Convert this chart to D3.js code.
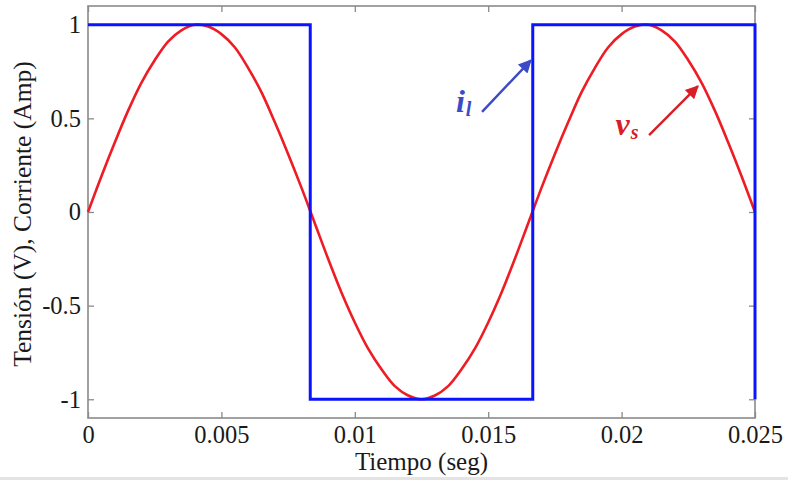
<!DOCTYPE html>
<html>
<head>
<meta charset="utf-8">
<script src="https://cdn.jsdelivr.net/npm/d3@7"></script>
<style>
  html, body { margin: 0; padding: 0; background: #ffffff; }
  svg { display: block; }
  text { font-family: "Liberation Serif", "Times New Roman", serif; }
</style>
</head>
<body>
<svg id="chart" width="788" height="480"></svg>
<script>
// Time samples (s)
const tiempo = [
  0, 0.0005, 0.001, 0.0015, 0.002, 0.0025, 0.003, 0.0035, 0.004, 0.0045,
  0.005, 0.0055, 0.006, 0.0065, 0.007, 0.0075, 0.008, 0.0085, 0.009, 0.0095,
  0.01, 0.0105, 0.011, 0.0115, 0.012, 0.0125, 0.013, 0.0135, 0.014, 0.0145,
  0.015, 0.0155, 0.016, 0.0165, 0.017, 0.0175, 0.018, 0.0185, 0.019, 0.0195,
  0.02, 0.0205, 0.021, 0.0215, 0.022, 0.0225, 0.023, 0.0235, 0.024, 0.0245,
  0.025
];
// Source voltage v_s (normalised)
const tension = [
  0, 0.19, 0.37, 0.54, 0.69, 0.81, 0.91, 0.97, 1.0, 0.99,
  0.95, 0.88, 0.77, 0.64, 0.48, 0.31, 0.13, -0.06, -0.25, -0.43,
  -0.59, -0.73, -0.84, -0.93, -0.98, -1.0, -0.98, -0.93, -0.84, -0.73,
  -0.59, -0.43, -0.25, -0.06, 0.13, 0.31, 0.48, 0.64, 0.77, 0.88,
  0.95, 0.99, 1.0, 0.97, 0.91, 0.81, 0.69, 0.54, 0.37, 0.19,
  0
];
// Load current i_l (square wave corners)
const tiempoCorriente = [0, 0.00833, 0.00833, 0.01667, 0.01667, 0.025, 0.025];
const corriente       = [1, 1, -1, -1, 1, 1, -1];

// Axis ticks
const xTicks = [0, 0.005, 0.01, 0.015, 0.02, 0.025];
const xTickLabels = ["0", "0.005", "0.01", "0.015", "0.02", "0.025"];
const yTicks = [-1, -0.5, 0, 0.5, 1];
const yTickLabels = ["-1", "-0.5", "0", "0.5", "1"];

// Annotations: label anchor and arrow (tail -> head) in data units
const etiquetas = [
  { main: "i", sub: "l", color: "#3b4bc6", t: 0.01379, v: 0.535,
    from: [0.01477, 0.535], to: [0.01660, 0.81] },
  { main: "v", sub: "s", color: "#d81f26", t: 0.01977, v: 0.41,
    from: [0.02103, 0.41], to: [0.02286, 0.672] }
];

const svg = d3.select("#chart");
const plotLeft = 88, plotRight = 755, plotTop = 6, plotBottom = 418;

const x = d3.scaleLinear().domain([0, 0.025]).range([plotLeft, plotRight]);
const y = d3.scaleLinear().domain([-1.1, 1.1]).range([plotBottom, plotTop]);

const axisColor = "#8a8a8a";

// Frame box
svg.append("rect")
  .attr("x", plotLeft).attr("y", plotTop)
  .attr("width", plotRight - plotLeft).attr("height", plotBottom - plotTop)
  .attr("fill", "none").attr("stroke", axisColor).attr("stroke-width", 1.6);

function styleAxis(g) {
  g.select(".domain").remove();
  g.selectAll(".tick line").attr("stroke", axisColor).attr("stroke-width", 1.3);
  g.selectAll(".tick text").attr("fill", "#1a1a1a")
    .style("font-family", "'Liberation Serif', serif").style("font-size", "24.5px");
}

// Bottom axis with inward ticks
svg.append("g").attr("transform", `translate(0,${plotBottom})`)
  .call(d3.axisBottom(x).tickValues(xTicks)
    .tickFormat((d, i) => xTickLabels[i]).tickSize(-6).tickPadding(8))
  .call(styleAxis);
// Top axis ticks only
svg.append("g").attr("transform", `translate(0,${plotTop})`)
  .call(d3.axisTop(x).tickValues(xTicks).tickFormat("").tickSize(-6))
  .call(styleAxis);
// Left axis with inward ticks
svg.append("g").attr("transform", `translate(${plotLeft},0)`)
  .call(d3.axisLeft(y).tickValues(yTicks)
    .tickFormat((d, i) => yTickLabels[i]).tickSize(-6).tickPadding(7))
  .call(styleAxis);
// Right axis ticks only
svg.append("g").attr("transform", `translate(${plotRight},0)`)
  .call(d3.axisRight(y).tickValues(yTicks).tickFormat("").tickSize(-6))
  .call(styleAxis);

// Voltage curve
const vLine = d3.line()
  .x((d, i) => x(tiempo[i]))
  .y(d => y(d))
  .curve(d3.curveCatmullRom.alpha(0.5));
svg.append("path")
  .attr("d", vLine(tension))
  .attr("fill", "none").attr("stroke", "#ee1c25").attr("stroke-width", 2.6);

// Current square wave
const iLine = d3.line()
  .x((d, i) => x(tiempoCorriente[i]))
  .y(d => y(d));
svg.append("path")
  .attr("d", iLine(corriente))
  .attr("fill", "none").attr("stroke", "#0a14ff").attr("stroke-width", 3)
  .attr("stroke-linejoin", "miter");

// Arrow markers
const defs = svg.append("defs");
etiquetas.forEach((e, k) => {
  defs.append("marker")
    .attr("id", "flecha" + k)
    .attr("viewBox", "0 0 10 10")
    .attr("refX", 9).attr("refY", 5)
    .attr("markerWidth", 6.5).attr("markerHeight", 5.5)
    .attr("markerUnits", "strokeWidth")
    .attr("orient", "auto")
    .append("path").attr("d", "M0,0 L10,5 L0,10 Z").attr("fill", e.color);
});

// Annotation labels and arrows
etiquetas.forEach((e, k) => {
  svg.append("line")
    .attr("x1", x(e.from[0])).attr("y1", y(e.from[1]))
    .attr("x2", x(e.to[0])).attr("y2", y(e.to[1]))
    .attr("stroke", e.color).attr("stroke-width", 2.4)
    .attr("marker-end", `url(#flecha${k})`);
  const t = svg.append("text")
    .attr("x", x(e.t)).attr("y", y(e.v))
    .attr("fill", e.color)
    .style("font-family", "'Liberation Serif', serif")
    .style("font-weight", "bold").style("font-style", "italic");
  t.append("tspan").style("font-size", "32px").text(e.main);
  t.append("tspan").attr("dy", 4).attr("dx", 1).style("font-size", "20px").text(e.sub);
});

// Axis titles
svg.append("text")
  .attr("x", (plotLeft + plotRight) / 2).attr("y", 470)
  .attr("text-anchor", "middle")
  .attr("fill", "#1a1a1a").style("font-size", "25px")
  .text("Tiempo (seg)");
svg.append("text")
  .attr("transform", `translate(31,${(plotTop + plotBottom) / 2 + 2}) rotate(-90)`)
  .attr("text-anchor", "middle")
  .attr("fill", "#1a1a1a").style("font-size", "25.5px")
  .text("Tensión (V), Corriente (Amp)");

// Light band along the bottom edge
svg.append("rect")
  .attr("x", 0).attr("y", 477).attr("width", 788).attr("height", 3)
  .attr("fill", "#e4e4e4");
</script>
</body>
</html>
